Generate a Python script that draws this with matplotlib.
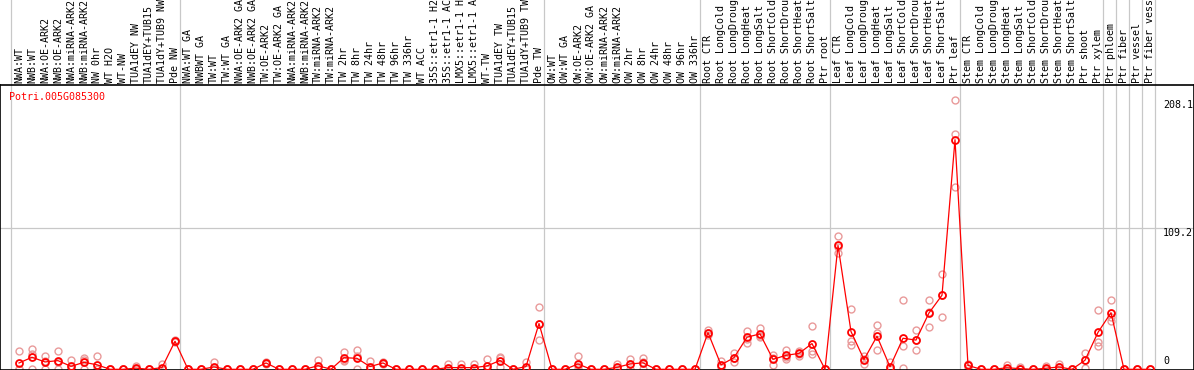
import numpy as np
import matplotlib.pyplot as plt

gene = "Potri.005G085300"

samples = ["NWA:WT", "NWB:WT", "NWA:OE-ARK2", "NWB:OE-ARK2", "NWA:miRNA-ARK2", "NWB:miRNA-ARK2",
           "NW 0hr", "WT H2O", "WT-NW", "TUA1dEY NW", "TUA1dEY+TUB15", "TUA1dY+TUB9 NW", "Pde NW",
           "NWA:WT GA", "NWBWT GA", "TW:WT", "TW:WT GA", "NWA:OE-ARK2 GA", "NWB:OE-ARK2 GA",
           "TW:OE-ARK2", "TW:OE-ARK2 GA", "NWA:miRNA-ARK2", "NWB:miRNA-ARK2", "TW:miRNA-ARK2",
           "TW:miRNA-ARK2", "TW 2hr", "TW 8hr", "TW 24hr", "TW 48hr", "TW 96hr", "TW 336hr",
           "WT ACC", "35S::etr1-1 H2", "35S::etr1-1 AC", "LMX5::etr1-1 H", "LMX5::etr1-1 A",
           "WT-TW", "TUA1dEY TW", "TUA1dEY+TUB15", "TUA1dY+TUB9 TW", "Pde TW",
           "OW:WT", "OW:WT GA", "OW:OE-ARK2", "OW:OE-ARK2 GA", "OW:miRNA-ARK2", "OW:miRNA-ARK2",
           "OW 2hr", "OW 8hr", "OW 24hr", "OW 48hr", "OW 96hr", "OW 336hr",
           "Root CTR", "Root LongCold", "Root LongDroug", "Root LongHeat", "Root LongSalt",
           "Root ShortCold", "Root ShortDrou", "Root ShortHeat", "Root ShortSalt", "Ptr root",
           "Leaf CTR", "Leaf LongCold", "Leaf LongDroug", "Leaf LongHeat", "Leaf LongSalt",
           "Leaf ShortCold", "Leaf ShortDrou", "Leaf ShortHeat", "Leaf ShortSalt", "Ptr leaf",
           "Stem CTR", "Stem LongCold", "Stem LongDroug", "Stem LongHeat", "Stem LongSalt",
           "Stem ShortCold", "Stem ShortDrou", "Stem ShortHeat", "Stem ShortSalt",
           "Ptr shoot", "Ptr xylem", "Ptr phloem", "Ptr fiber", "Ptr vessel", "Ptr fiber vess"]

# mean expression (red line)
mean_expr = [4.9, 9.3, 5.7, 6.7, 2.3, 5.4, 3.5, 0, 0, 0.9, 0, 1.3, 21.7,
             0, 0, 1.8, 0, 0, 0, 4.9, 0, 0, 0, 2.8, 0, 9.0, 8.5, 2.1, 4.9, 0, 0,
             0, 0, 1.3, 1.3, 1.3, 2.6, 6.8, 0, 2.1, 35.4,
             0, 0, 4.1, 0, 0, 1.5, 4.1, 5.0, 0, 0, 0, 0,
             28.4, 3.4, 9.0, 24.8, 27.4, 7.7, 10.8, 12.3, 19.9, 0,
             95.8, 29.2, 7.5, 25.6, 1.9, 24.0, 22.6, 43.6, 57.3, 177.6,
             3.0, 0, 0, 1.2, 0.5, 0, 0.8, 1.8, 0,
             7.0, 28.6, 43.8, 0, 0, 0]

# replicates (pink circles)
rep_a = [14.5, 16.0, 10.3, 14.5, 7.0, 8.8, 10.5, 0, 0, 2.8, 0, 3.9, 22.5,
         0, 0, 5.5, 0, 0, 0, 5.7, 0, 0, 0, 7.2, 0, 13.4, 15.2, 6.2, 5.7, 0, 0,
         0, 0, 3.9, 3.9, 3.9, 7.7, 9.8, 0, 5.5, 48.0,
         0, 0, 10.1, 0, 0, 4.4, 8.3, 9.0, 0, 0, 0, 0,
         30.7, 6.5, 12.9, 30.0, 32.0, 10.8, 14.7, 14.5, 33.3, 0,
         103.0, 47.0, 10.1, 34.1, 5.7, 53.4, 30.5, 53.4, 73.6, 208.1,
         4.4, 0, 0, 3.5, 1.5, 0, 2.5, 3.9, 0,
         12.6, 46.2, 53.4, 0, 0, 0]
rep_b = [0.2, 12.0, 6.5, 5.6, 0, 7.2, 0, 0, 0, 0, 0, 0, 21.7,
         0, 0, 0, 0, 0, 0, 4.9, 0, 0, 0, 1.2, 0, 7.4, 10.3, 0, 4.4, 0, 0,
         0, 0, 0, 0, 0, 0, 8.8, 0, 0.8, 35.2,
         0, 0, 2.2, 0, 0, 0, 4.0, 6.0, 0, 0, 0, 0,
         28.0, 2.3, 8.5, 23.7, 25.6, 8.7, 9.4, 12.0, 14.3, 0,
         94.3, 22.0, 8.0, 28.0, 0, 17.8, 22.5, 44.6, 57.8, 182.0,
         3.5, 0, 0, 0, 0, 0, 0, 1.5, 0,
         7.4, 21.5, 40.6, 0, 0, 0]
rep_c = [0, 0, 0, 0, 0, 0, 0, 0, 0, 0, 0, 0, 21.0,
         0, 0, 0, 0, 0, 0, 3.9, 0, 0, 0, 0, 0, 6.2, 0, 0, 4.6, 0, 0,
         0, 0, 0, 0, 0, 0, 1.8, 0, 0, 23.0,
         0, 0, 0, 0, 0, 0, 0, 0, 0, 0, 0, 0,
         26.7, 1.4, 5.7, 20.7, 24.6, 3.6, 8.3, 10.5, 12.1, 0,
         90.1, 18.6, 4.4, 14.7, 0, 0.8, 14.7, 32.8, 40.5, 141.2,
         1.2, 0, 0, 0, 0, 0, 0, 0, 0,
         1.0, 18.0, 37.4, 0, 0, 0]

# index of last sample in each block (vertical separators)
group_ends = [-1, 12, 40, 52, 62, 72, 83, 84, 85, 86, 87]
ytick_vals = [0, 109.2, 208.1]
ytick_text = ["0", "109.2", "208.1"]

W, H = 1194, 370
top_px = 85
fig = plt.figure(figsize=(W / 100, H / 100), dpi=100)
ax = fig.add_axes([0, 0, 1, (H - top_px) / H])

x = np.arange(len(samples))
mono = "DejaVu Sans Mono"
fs = 7.2

for e in group_ends:
    ax.axvline(e + 0.4, ymin=0, ymax=H / (H - top_px), color="#c8c8c8", lw=0.9,
               clip_on=False, zorder=0)
ax.axhline(109.2, color="#c8c8c8", lw=0.9, zorder=0)

for reps in (rep_a, rep_b, rep_c):
    ax.plot(x, reps, ls="none", marker="o", mfc="none", mec="#e99a9a", ms=5,
            mew=1.0, clip_on=False, zorder=2)
ax.plot(x, mean_expr, color="red", lw=0.9, marker="o", mfc="none", mec="red",
        ms=5, mew=1.3, clip_on=False, zorder=3)

ax.set_xlim(-19 / 13, (W - 19) / 13)
ax.set_ylim(-0.54, 219.9)
ax.set_xticks([])
ax.set_yticks([])
for s in ax.spines.values():
    s.set_color("black")
    s.set_linewidth(1.2)

for i, s in enumerate(samples):
    ax.annotate(s, (i, 1), xycoords=("data", "axes fraction"), xytext=(0, 2),
                textcoords="offset pixels", rotation=90, ha="center", va="bottom",
                family=mono, fontsize=fs, annotation_clip=False)

for v, t in zip(ytick_vals, ytick_text):
    if v == 0:
        ax.annotate(t, (88, v), xytext=(0, 3), textcoords="offset pixels",
                    ha="left", va="bottom", family=mono, fontsize=fs)
    else:
        ax.annotate(t, (88, v), xytext=(0, 0), textcoords="offset pixels",
                    ha="left", va="top", family=mono, fontsize=fs)

fig.text(9 / W, 1 - 97 / H, gene, color="red", ha="left", va="center",
         family=mono, fontsize=fs)

fig.savefig("out.png", dpi=100)
